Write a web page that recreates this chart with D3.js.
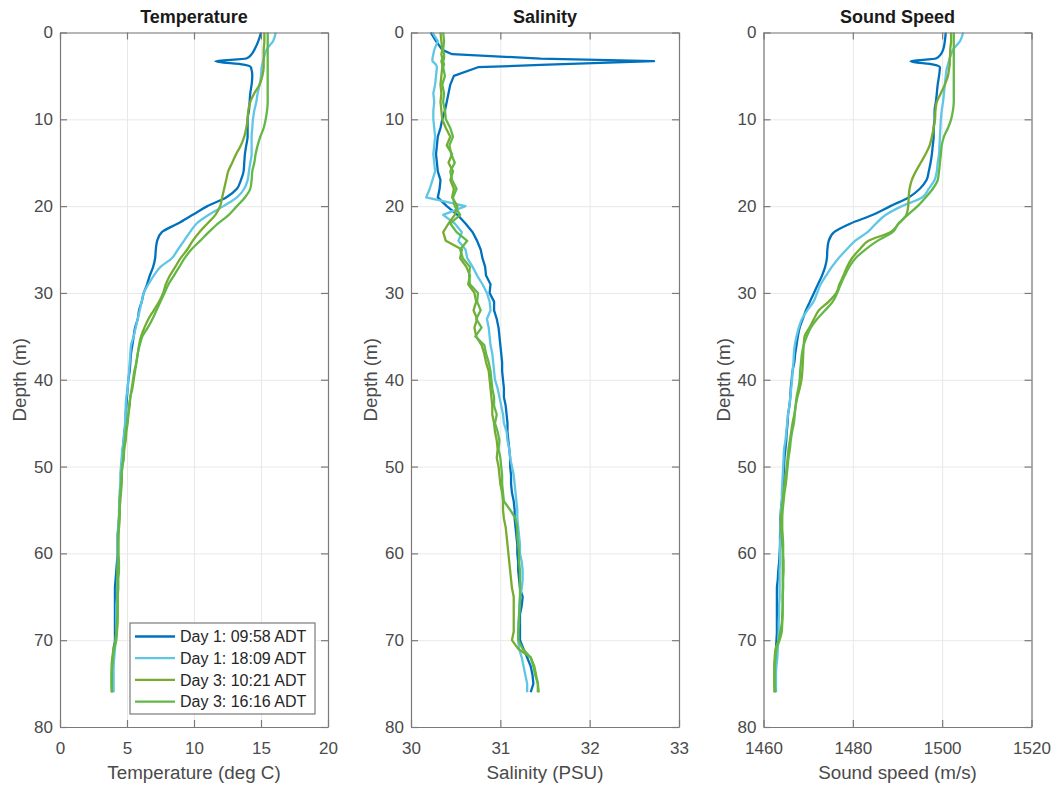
<!DOCTYPE html>
<html>
<head>
<meta charset="utf-8">
<script src="https://cdn.jsdelivr.net/npm/d3@7"></script>
<style>
  body { margin: 0; background: #fff; }
  text { font-family: "Liberation Sans", Arial, Helvetica, sans-serif; }
</style>
</head>
<body>
<svg id="chart" width="1058" height="786"></svg>
<script>
// depth levels (m), shared by every profile
var depth = [0, 1, 2, 2.5, 3, 3.3, 3.7, 4,
  5, 6, 7, 8, 9, 10, 11, 12, 13, 14,
  15, 16, 17, 18, 19, 20, 21, 22, 23, 24,
  25, 26, 27, 28, 29, 30, 31, 32, 33, 34,
  35, 36, 37, 38, 39, 40, 41, 42, 43, 44,
  45, 46, 47, 48, 49, 50, 51, 52, 53, 54,
  55, 56, 57, 58, 59, 60, 61, 62, 63, 64,
  65, 66, 67, 68, 69, 70, 71, 72, 73, 74,
  75, 76];

var castNames = ["Day 1: 09:58 ADT", "Day 1: 18:09 ADT", "Day 3: 10:21 ADT", "Day 3: 16:16 ADT"];

// temperature (deg C)
var tempDay1a = [15.0, 14.8, 14.5, 14.3, 13.9, 11.6, 13.7, 14.25,
  14.35, 14.3, 14.2, 14.15, 14.1, 14.0, 14.0, 14.0, 13.9, 13.8,
  13.75, 13.7, 13.5, 13.2, 12.4, 11.0, 9.9, 8.8, 7.6, 7.25,
  7.15, 7.1, 6.95, 6.7, 6.5, 6.25, 6.1, 5.9, 5.8, 5.6,
  5.5, 5.4, 5.3, 5.25, 5.2, 5.1, 5.05, 5.0, 4.95, 4.9,
  4.9, 4.8, 4.75, 4.7, 4.65, 4.6, 4.6, 4.55, 4.5, 4.45,
  4.45, 4.4, 4.35, 4.3, 4.3, 4.3, 4.25, 4.2, 4.15, 4.1,
  4.1, 4.1, 4.1, 4.1, 4.1, 4.1, 4.0, 4.0, 3.95, 3.9,
  3.9, 3.9];
var tempDay1b = [16.1, 15.9, 15.4, 15.3, 15.2, 15.15, 15.1, 15.05,
  15.0, 14.9, 14.75, 14.65, 14.5, 14.4, 14.35, 14.3, 14.3, 14.3,
  14.2, 14.1, 14.0, 13.75, 13.2, 12.2, 11.1, 10.2, 9.7, 9.25,
  8.8, 8.35, 7.5, 7.0, 6.6, 6.25, 6.1, 5.95, 5.8, 5.65,
  5.5, 5.3, 5.25, 5.2, 5.15, 5.1, 5.05, 4.95, 4.9, 4.9,
  4.85, 4.8, 4.75, 4.65, 4.6, 4.55, 4.5, 4.5, 4.45, 4.45,
  4.4, 4.4, 4.35, 4.35, 4.3, 4.3, 4.3, 4.3, 4.3, 4.25,
  4.25, 4.2, 4.2, 4.2, 4.2, 4.15, 4.1, 4.05, 4.0, 4.0,
  4.0, 4.0];
var tempDay3a = [15.25, 15.25, 15.2, 15.2, 15.2, 15.2, 15.2, 15.2,
  15.1, 14.9, 14.5, 14.2, 14.05, 14.0, 13.9, 13.75, 13.5, 13.15,
  12.85, 12.55, 12.4, 12.25, 12.1, 11.95, 11.6, 11.0, 10.4, 9.9,
  9.5, 9.0, 8.6, 8.2, 7.9, 7.7, 7.4, 7.0, 6.6, 6.3,
  6.05, 5.9, 5.8, 5.7, 5.6, 5.5, 5.4, 5.25, 5.2, 5.1,
  5.05, 4.95, 4.9, 4.8, 4.75, 4.65, 4.6, 4.6, 4.55, 4.5,
  4.45, 4.45, 4.4, 4.35, 4.35, 4.35, 4.35, 4.3, 4.3, 4.3,
  4.3, 4.3, 4.3, 4.25, 4.2, 4.15, 4.0, 3.9, 3.85, 3.85,
  3.85, 3.85];
var tempDay3b = [15.5, 15.5, 15.5, 15.5, 15.5, 15.5, 15.5, 15.5,
  15.5, 15.5, 15.5, 15.5, 15.45, 15.35, 15.2, 14.95, 14.75, 14.6,
  14.5, 14.35, 14.3, 14.2, 13.8, 13.2, 12.6, 11.8, 11.1, 10.45,
  9.8, 9.3, 8.9, 8.5, 8.1, 7.8, 7.5, 7.2, 6.9, 6.55,
  6.15, 5.95, 5.8, 5.7, 5.55, 5.45, 5.35, 5.25, 5.15, 5.1,
  5.0, 4.9, 4.85, 4.75, 4.75, 4.65, 4.6, 4.55, 4.5, 4.45,
  4.45, 4.4, 4.4, 4.35, 4.35, 4.35, 4.4, 4.4, 4.35, 4.35,
  4.3, 4.3, 4.3, 4.3, 4.25, 4.2, 4.05, 3.95, 3.9, 3.85,
  3.85, 3.9];

// salinity (PSU)
var salDay1a = [30.22, 30.28, 30.35, 30.46, 31.45, 32.72, 31.53, 30.75,
  30.48, 30.44, 30.42, 30.40, 30.38, 30.35, 30.33, 30.30, 30.29, 30.28,
  30.29, 30.30, 30.33, 30.32, 30.30, 30.40, 30.52, 30.61, 30.69, 30.74,
  30.78, 30.80, 30.83, 30.84, 30.89, 30.88, 30.93, 30.93, 30.96, 30.98,
  30.99, 31.00, 31.01, 31.02, 31.02, 31.03, 31.04, 31.04, 31.06, 31.07,
  31.08, 31.08, 31.09, 31.10, 31.11, 31.11, 31.12, 31.12, 31.13, 31.15,
  31.16, 31.16, 31.17, 31.18, 31.19, 31.19, 31.20, 31.20, 31.21, 31.22,
  31.25, 31.24, 31.22, 31.22, 31.22, 31.22, 31.26, 31.30, 31.34, 31.36,
  31.37, 31.34];
var salDay1b = [30.24, 30.30, 30.26, 30.25, 30.24, 30.24, 30.28, 30.29,
  30.28, 30.27, 30.25, 30.26, 30.25, 30.25, 30.26, 30.27, 30.26, 30.25,
  30.26, 30.27, 30.24, 30.21, 30.17, 30.61, 30.36, 30.49, 30.57, 30.53,
  30.61, 30.63, 30.69, 30.74, 30.80, 30.85, 30.88, 30.89, 30.85, 30.87,
  30.88, 30.89, 30.91, 30.92, 30.93, 30.94, 30.97, 30.99, 31.01, 31.03,
  31.04, 31.07, 31.08, 31.10, 31.11, 31.13, 31.15, 31.16, 31.17, 31.18,
  31.19, 31.19, 31.20, 31.21, 31.22, 31.22, 31.24, 31.25, 31.25, 31.24,
  31.22, 31.21, 31.21, 31.20, 31.20, 31.20, 31.21, 31.24, 31.26, 31.28,
  31.30, 31.30];
var salDay3a = [30.33, 30.34, 30.35, 30.34, 30.35, 30.34, 30.35, 30.35,
  30.34, 30.33, 30.34, 30.33, 30.34, 30.35, 30.39, 30.44, 30.40, 30.46,
  30.42, 30.47, 30.44, 30.48, 30.46, 30.52, 30.49, 30.42, 30.36, 30.39,
  30.57, 30.55, 30.62, 30.66, 30.64, 30.71, 30.73, 30.70, 30.74, 30.71,
  30.73, 30.79, 30.82, 30.84, 30.87, 30.88, 30.89, 30.90, 30.91, 30.91,
  30.93, 30.94, 30.96, 30.97, 30.96, 30.98, 30.99, 31.00, 31.02, 31.03,
  31.03, 31.04, 31.06, 31.07, 31.08, 31.09, 31.10, 31.11, 31.12, 31.13,
  31.15, 31.15, 31.15, 31.15, 31.15, 31.13, 31.20, 31.34, 31.38, 31.40,
  31.42, 31.42];
var salDay3b = [30.36, 30.37, 30.36, 30.37, 30.37, 30.36, 30.37, 30.36,
  30.38, 30.35, 30.37, 30.36, 30.38, 30.39, 30.44, 30.47, 30.43, 30.45,
  30.49, 30.44, 30.46, 30.51, 30.47, 30.49, 30.55, 30.44, 30.51, 30.63,
  30.55, 30.58, 30.66, 30.65, 30.66, 30.75, 30.74, 30.78, 30.73, 30.79,
  30.72, 30.82, 30.84, 30.87, 30.89, 30.90, 30.91, 30.93, 30.93, 30.96,
  30.94, 30.97, 30.99, 30.98, 31.00, 31.01, 31.02, 31.02, 31.03, 31.04,
  31.11, 31.17, 31.19, 31.19, 31.20, 31.21, 31.21, 31.22, 31.22, 31.22,
  31.22, 31.22, 31.21, 31.21, 31.20, 31.20, 31.25, 31.34, 31.37, 31.39,
  31.42, 31.43];

// sound speed (m/s)
var soundDay1a = [1500.8, 1500.6, 1500.2, 1499.7, 1498.6, 1492.9, 1498.1, 1499.5,
  1499.3, 1499.0, 1498.8, 1498.6, 1498.3, 1498.3, 1498.1, 1498.1, 1497.9, 1497.7,
  1497.4, 1497.0, 1496.5, 1495.0, 1492.5, 1488.4, 1484.5, 1479.5, 1475.8, 1474.6,
  1474.3, 1474.2, 1473.8, 1473.1, 1472.2, 1471.3, 1470.4, 1469.5, 1468.8, 1468.1,
  1467.7, 1467.4, 1467.1, 1466.9, 1466.5, 1466.3, 1466.1, 1466.0, 1465.8, 1465.5,
  1465.4, 1465.2, 1465.1, 1464.9, 1464.7, 1464.6, 1464.5, 1464.4, 1464.3, 1464.1,
  1463.9, 1463.8, 1463.8, 1463.7, 1463.7, 1463.6, 1463.5, 1463.3, 1463.2, 1463.0,
  1463.0, 1463.0, 1463.0, 1463.0, 1463.0, 1462.9, 1462.8, 1462.7, 1462.6, 1462.6,
  1462.6, 1462.5];
var soundDay1b = [1504.7, 1504.0, 1502.4, 1502.0, 1501.7, 1501.5, 1501.3, 1501.1,
  1500.8, 1500.6, 1500.4, 1500.2, 1499.9, 1499.7, 1499.6, 1499.5, 1499.4, 1499.3,
  1499.0, 1498.8, 1498.3, 1497.0, 1495.5, 1491.0, 1487.4, 1485.2, 1483.3, 1480.5,
  1478.6, 1476.8, 1475.3, 1474.0, 1472.8, 1472.0, 1471.2, 1469.8, 1468.6, 1467.9,
  1467.4, 1467.0, 1466.8, 1466.7, 1466.5, 1466.4, 1466.2, 1466.0, 1465.8, 1465.5,
  1465.3, 1465.1, 1464.9, 1464.6, 1464.5, 1464.4, 1464.3, 1464.2, 1464.1, 1464.1,
  1463.9, 1463.9, 1463.8, 1463.8, 1463.7, 1463.7, 1463.7, 1463.6, 1463.6, 1463.6,
  1463.6, 1463.5, 1463.5, 1463.4, 1463.4, 1463.3, 1463.2, 1463.1, 1462.9, 1462.8,
  1462.8, 1462.8];
var soundDay3a = [1502.0, 1502.0, 1501.8, 1501.8, 1501.7, 1501.7, 1501.7, 1501.6,
  1501.3, 1500.6, 1499.7, 1498.8, 1498.5, 1498.4, 1498.1, 1497.7, 1497.2, 1496.3,
  1495.2, 1494.1, 1493.2, 1492.7, 1492.5, 1492.4, 1492.0, 1490.3, 1488.4, 1483.5,
  1481.5, 1479.8, 1478.7, 1477.9, 1477.0, 1476.3, 1474.6, 1472.4, 1471.3, 1470.3,
  1469.2, 1469.0, 1468.9, 1468.8, 1468.7, 1468.5, 1468.1, 1467.6, 1467.2, 1466.9,
  1466.5, 1466.2, 1465.9, 1465.6, 1465.4, 1465.2, 1465.0, 1464.7, 1464.5, 1464.3,
  1464.1, 1463.9, 1463.9, 1464.1, 1464.2, 1464.3, 1464.3, 1464.3, 1464.3, 1464.3,
  1464.3, 1464.3, 1464.2, 1464.1, 1463.8, 1463.4, 1462.7, 1462.5, 1462.4, 1462.4,
  1462.4, 1462.5];
var soundDay3b = [1502.6, 1502.6, 1502.6, 1502.6, 1502.6, 1502.6, 1502.6, 1502.6,
  1502.6, 1502.6, 1502.6, 1502.6, 1502.4, 1502.0, 1501.3, 1500.4, 1499.9, 1499.7,
  1499.5, 1499.3, 1499.0, 1497.9, 1496.3, 1494.5, 1492.3, 1490.2, 1488.9, 1485.5,
  1482.8, 1480.6, 1479.2, 1478.2, 1477.3, 1476.5, 1475.5, 1473.8, 1472.0, 1470.6,
  1469.7, 1469.0, 1468.6, 1468.4, 1468.2, 1468.1, 1467.8, 1467.4, 1467.2, 1467.0,
  1466.8, 1466.4, 1466.1, 1465.9, 1465.6, 1465.4, 1465.2, 1465.0, 1464.7, 1464.5,
  1464.3, 1464.2, 1464.2, 1464.3, 1464.4, 1464.4, 1464.5, 1464.5, 1464.4, 1464.4,
  1464.3, 1464.3, 1464.3, 1464.2, 1464.1, 1463.6, 1462.9, 1462.7, 1462.5, 1462.5,
  1462.5, 1462.7];

var depthTicks = [0, 10, 20, 30, 40, 50, 60, 70, 80];
var tempTicks = [0, 5, 10, 15, 20];
var salTicks = [30, 31, 32, 33];
var soundTicks = [1460, 1480, 1500, 1520];

var lineColors = ["#0072bd", "#5fc6e6", "#77ac30", "#62b846"];

// one row per cast, built from the arrays above
var casts = castNames.map(function (name, i) {
  return {
    name: name,
    color: lineColors[i],
    temp: [tempDay1a, tempDay1b, tempDay3a, tempDay3b][i],
    sal: [salDay1a, salDay1b, salDay3a, salDay3b][i],
    sound: [soundDay1a, soundDay1b, soundDay3a, soundDay3b][i]
  };
});

var svg = d3.select("#chart");
var plotTop = 32.5, plotBottom = 727, plotW = 268;
var axisCol = "#7a7a7a", textCol = "#4a4a4a", gridCol = "#e8e8e8";
var plain = function (d) { return String(d); };

var y = d3.scaleLinear().domain([0, 80]).range([plotTop, plotBottom]);

function drawPanel(left, domain, ticks, key, title, xLabel, withLegend) {
  var x = d3.scaleLinear().domain(domain).range([left, left + plotW]);
  var g = svg.append("g");

  // grid
  g.append("g")
    .attr("transform", "translate(0," + plotBottom + ")")
    .call(d3.axisBottom(x).tickValues(ticks).tickSize(-(plotBottom - plotTop)).tickFormat(""))
    .call(function (a) { a.select(".domain").remove(); a.selectAll("line").attr("stroke", gridCol); });
  g.append("g")
    .attr("transform", "translate(" + left + ",0)")
    .call(d3.axisLeft(y).tickValues(depthTicks).tickSize(-plotW).tickFormat(""))
    .call(function (a) { a.select(".domain").remove(); a.selectAll("line").attr("stroke", gridCol); });

  // profiles
  var line = d3.line()
    .x(function (d) { return x(d[1]); })
    .y(function (d) { return y(d[0]); })
    .curve(key === "sal" ? d3.curveLinear : d3.curveMonotoneY);

  casts.forEach(function (c) {
    g.append("path")
      .datum(depth.map(function (d, i) { return [d, c[key][i]]; }))
      .attr("fill", "none")
      .attr("stroke", c.color)
      .attr("stroke-width", 2.3)
      .attr("stroke-linejoin", "round")
      .attr("d", line);
  });

  // axes (box, ticks inside)
  var bottomAx = g.append("g")
    .attr("transform", "translate(0," + plotBottom + ")")
    .call(d3.axisBottom(x).tickValues(ticks).tickFormat(plain).tickSizeInner(-7).tickSizeOuter(0).tickPadding(15));
  var leftAx = g.append("g")
    .attr("transform", "translate(" + left + ",0)")
    .call(d3.axisLeft(y).tickValues(depthTicks).tickFormat(plain).tickSizeInner(-7).tickSizeOuter(0).tickPadding(7));
  var topAx = g.append("g")
    .attr("transform", "translate(0," + plotTop + ")")
    .call(d3.axisTop(x).tickValues(ticks).tickSizeInner(-7).tickSizeOuter(0).tickFormat(""));
  var rightAx = g.append("g")
    .attr("transform", "translate(" + (left + plotW) + ",0)")
    .call(d3.axisRight(y).tickValues(depthTicks).tickSizeInner(-7).tickSizeOuter(0).tickFormat(""));

  [bottomAx, leftAx, topAx, rightAx].forEach(function (a) {
    a.selectAll(".domain, .tick line").attr("stroke", axisCol).attr("stroke-width", 1.2);
    a.selectAll("text").attr("fill", textCol).style("font-size", "17px").attr("font-family", null);
  });

  // title and labels
  g.append("text")
    .attr("x", left + plotW / 2).attr("y", 23)
    .attr("text-anchor", "middle")
    .style("font-size", "18px").style("font-weight", "bold")
    .attr("fill", "#1a1a1a")
    .text(title);
  g.append("text")
    .attr("x", left + plotW / 2).attr("y", 779)
    .attr("text-anchor", "middle")
    .style("font-size", "18.8px")
    .attr("fill", textCol)
    .text(xLabel);
  g.append("text")
    .attr("transform", "translate(" + (left - 34) + "," + ((plotTop + plotBottom) / 2) + ") rotate(-90)")
    .attr("text-anchor", "middle")
    .style("font-size", "18.8px")
    .attr("fill", textCol)
    .text("Depth (m)");

  if (withLegend) {
    var lx = left + plotW - 198, ly = plotBottom - 104;
    var lg = g.append("g");
    lg.append("rect")
      .attr("x", lx).attr("y", ly).attr("width", 185).attr("height", 91)
      .attr("fill", "#fff").attr("stroke", axisCol).attr("stroke-width", 1.2);
    casts.forEach(function (c, i) {
      var ry = ly + 13.5 + i * 21.7;
      lg.append("line")
        .attr("x1", lx + 5).attr("x2", lx + 45)
        .attr("y1", ry).attr("y2", ry)
        .attr("stroke", c.color).attr("stroke-width", 2.3);
      lg.append("text")
        .attr("x", lx + 50).attr("y", ry).attr("dy", "0.35em")
        .style("font-size", "16px")
        .attr("fill", "#262626")
        .text(c.name);
    });
  }
}

drawPanel(60, [0, 20], tempTicks, "temp", "Temperature", "Temperature (deg C)", true);
drawPanel(411, [30, 33], salTicks, "sal", "Salinity", "Salinity (PSU)", false);
drawPanel(763.5, [1460, 1520], soundTicks, "sound", "Sound Speed", "Sound speed (m/s)", false);
</script>
</body>
</html>
